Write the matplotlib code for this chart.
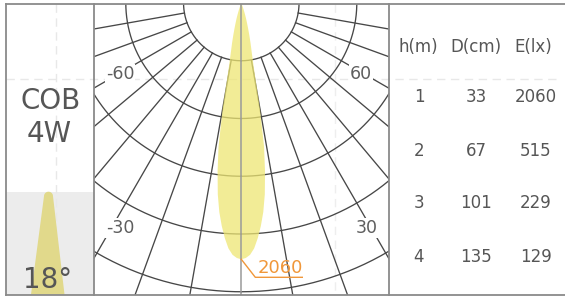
import numpy as np
import matplotlib
matplotlib.use("Agg")
import matplotlib.pyplot as plt
from matplotlib.patches import Rectangle, Polygon

# ---------------- data ----------------
product_name = "COB"
power_label = "4W"
beam_angle_label = "18°"
table_headers = ["h(m)", "D(cm)", "E(lx)"]
heights_m = [1, 2, 3, 4]
diameters_cm = [33, 67, 101, 135]
illuminance_lx = [2060, 515, 229, 129]
angle_labels = ["-60", "60", "-30", "30"]
angle_label_deg = [-60, 60, -30, 30]
# luminous intensity curve (half, symmetric), degrees from nadir -> cd
beam_angles_deg = [0, 1, 2, 3, 4, 5, 6, 7, 8, 9, 10, 11, 12, 13, 14, 15, 16, 17, 18, 19, 20, 21, 22]
beam_intensity_cd = [2060, 2050, 2025, 1975, 1895, 1800, 1690, 1550, 1370, 1170, 860, 520, 400,
                     330, 265, 210, 165, 130, 95, 65, 40, 15, 0]
peak_cd = max(beam_intensity_cd)

# ---------------- figure ----------------
fig = plt.figure(figsize=(5.65, 2.98), dpi=100)
ax = fig.add_axes([0, 0, 1, 1])
ax.set_xlim(0, 565)
ax.set_ylim(298, 0)
ax.axis("off")

TXT = "#565656"
FRAME = "#8a8a8a"
top, bottom = 4.0, 294.5
x_left, x_div1, x_div2 = 6.0, 93.5, 388.5

# faint guide lines
ax.plot([x_left, 556], [79, 79], color="#e8e8e8", lw=1, ls=(0, (6, 4)), zorder=0.5)
ax.plot([56, 56], [top, bottom], color="#e8e8e8", lw=1, ls=(0, (6, 4)), zorder=1.2)
ax.plot([335, 335], [top, bottom], color="#eeeeee", lw=1, ls=(0, (6, 4)), zorder=0.5)

# ---------------- left panel ----------------
ax.add_patch(Rectangle((x_left, 191.7), x_div1 - x_left, bottom - 191.7,
                       facecolor="#ececec", edgecolor="none", zorder=1))
cxl = 48.5
t = np.linspace(np.pi, 0, 20)
cap_x = list(cxl + 4.5 * np.cos(t))
cap_y = list(196.2 - 4.5 * np.sin(t))
icon = Polygon(list(zip([31.0] + cap_x + [64.5], [bottom] + cap_y + [bottom])),
               closed=True, facecolor="#e1d98b", edgecolor="none", zorder=1.5)
ax.add_patch(icon)
ax.text(51, 109, product_name, fontsize=20, color=TXT, ha="center", va="baseline", zorder=3)
ax.text(49.5, 141.5, power_label, fontsize=20, color=TXT, ha="center", va="baseline", zorder=3)
ax.text(47.5, 288.5, beam_angle_label, fontsize=20, color=TXT, ha="center", va="baseline", zorder=3)

# ---------------- polar panel ----------------
cx, cy = 241.3, 3.0
ring_step = 57.75
px_per_cd = 256.3 / peak_cd
clip = Rectangle((x_div1, top), x_div2 - x_div1, bottom - top, transform=ax.transData)

GRID = "#474747"
tt = np.linspace(0, 2 * np.pi, 600)
for k in range(1, 6):
    r = ring_step * k
    ln, = ax.plot(cx + r * np.sin(tt), cy + r * np.cos(tt), color=GRID, lw=0.95, zorder=2)
    ln.set_clip_path(clip)
for a in range(10, 91, 10):
    for s in (-1, 1):
        th = np.radians(s * a)
        ln, = ax.plot([cx + ring_step * np.sin(th), cx + 600 * np.sin(th)],
                      [cy + ring_step * np.cos(th), cy + 600 * np.cos(th)],
                      color=GRID, lw=0.95, zorder=2)
        ln.set_clip_path(clip)

# beam intensity curve
ang = np.radians(np.array([-a for a in beam_angles_deg[::-1]] + beam_angles_deg[1:]))
inten = np.array(beam_intensity_cd[::-1] + beam_intensity_cd[1:]) * px_per_cd
bx = cx + inten * np.sin(ang)
by = cy + inten * np.cos(ang)
f = ax.fill(bx, by, color="#eee673", alpha=0.75, lw=0, zorder=2.5)[0]
f.set_clip_path(clip)

# 0° axis
ln, = ax.plot([cx, cx], [top, bottom], color="#9a9a9a", lw=1.1, zorder=2.6)
ln.set_clip_path(clip)

# angle labels
label_pos = {"-60": (120, 74), "60": (361, 74), "-30": (120, 228), "30": (367, 228)}
for lab in angle_labels:
    px, py = label_pos[lab]
    ax.text(px, py, lab, fontsize=12.5, color="#5e5e5e", ha="center", va="center", zorder=3,
            bbox=dict(facecolor="white", edgecolor="none", pad=0.6))

# peak annotation
ORANGE = "#f0973a"
tip_x, tip_y = cx, cy + peak_cd * px_per_cd
ax.plot([tip_x, tip_x + 14, tip_x + 61], [tip_y, tip_y + 18, tip_y + 18],
        color=ORANGE, lw=1.0, zorder=3)
ax.text(tip_x + 16, tip_y + 14, f"{peak_cd}", fontsize=13, color=ORANGE,
        ha="left", va="baseline", zorder=3)

# ---------------- table ----------------
col_x = [419, 476, 536]
head_x = [418.5, 475.5, 533]
for hx, h in zip(head_x, table_headers):
    ax.text(hx, 52.5, h, fontsize=12, color=TXT, ha="center", va="baseline", zorder=3)
row_y = [102.3, 155.6, 208.4, 261.7]
for yv, hm, dc, el in zip(row_y, heights_m, diameters_cm, illuminance_lx):
    for xv, v in zip(col_x, (hm, dc, el)):
        ax.text(xv, yv, str(v), fontsize=12, color=TXT, ha="center", va="baseline", zorder=3)

# ---------------- frame ----------------
ax.plot([x_left, 565], [top, top], color=FRAME, lw=1.3, zorder=4)
ax.plot([x_left, 565], [bottom, bottom], color=FRAME, lw=1.3, zorder=4)
for xv in (x_left, x_div1, x_div2):
    ax.plot([xv, xv], [top, bottom], color=FRAME, lw=1.3, zorder=4)

fig.savefig("out.png", dpi=100)
